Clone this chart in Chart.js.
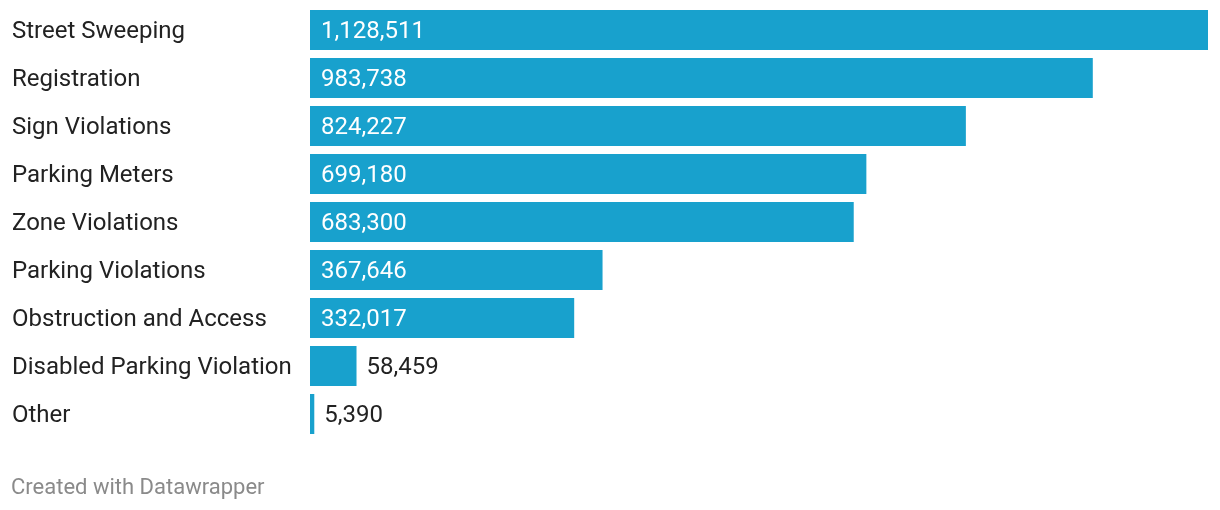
<!DOCTYPE html>
<html>
<head>
<meta charset="utf-8">
<script src="https://cdn.jsdelivr.net/npm/chart.js@4"></script>
<style>
  html, body { margin: 0; padding: 0; background: #fff; }
  #wrap { width: 1220px; height: 510px; position: relative; }
</style>
</head>
<body>
<div id="wrap"><canvas id="chart"></canvas></div>
<script>
const categories = [
  'Street Sweeping', 'Registration', 'Sign Violations', 'Parking Meters',
  'Zone Violations', 'Parking Violations', 'Obstruction and Access',
  'Disabled Parking Violation', 'Other'
];
const citations = [1128511, 983738, 824227, 699180, 683300, 367646, 332017, 58459, 5390];
const footerText = 'Created with Datawrapper';

const BAR_COLOR = '#18a1cd';
const FONT = 'Roboto, "Noto Sans", sans-serif';

// category names on the left + value labels (white inside bar if they fit)
const barLabels = {
  id: 'barLabels',
  afterDatasetsDraw(chart) {
    const ctx = chart.ctx;
    const meta = chart.getDatasetMeta(0);
    ctx.save();
    ctx.font = `24px ${FONT}`;
    ctx.textBaseline = 'middle';
    ctx.textAlign = 'left';
    meta.data.forEach((bar, i) => {
      ctx.fillStyle = '#222222';
      ctx.fillText(categories[i], 12, bar.y + 2);

      const text = citations[i].toLocaleString('en-US');
      const w = ctx.measureText(text).width;
      const barW = bar.x - bar.base;
      if (barW > w + 22) {
        ctx.fillStyle = '#ffffff';
        ctx.fillText(text, bar.base + 11, bar.y + 2);
      } else {
        ctx.fillStyle = '#222222';
        ctx.fillText(text, bar.x + 10, bar.y + 2);
      }
    });
    ctx.restore();
  }
};

const footer = {
  id: 'footer',
  afterDraw(chart) {
    const ctx = chart.ctx;
    ctx.save();
    ctx.font = `22px ${FONT}`;
    ctx.fillStyle = '#8a8a8a';
    ctx.textBaseline = 'middle';
    ctx.fillText(footerText, 11, 488);
    ctx.restore();
  }
};

new Chart(document.getElementById('chart'), {
  type: 'bar',
  data: {
    labels: categories,
    datasets: [{
      data: citations,
      backgroundColor: BAR_COLOR,
      categoryPercentage: 1,
      barPercentage: 40 / 48,
      borderWidth: 0,
    }]
  },
  options: {
    indexAxis: 'y',
    responsive: true,
    maintainAspectRatio: false,
    animation: false,
    layout: { padding: { left: 310, right: 12, top: 6, bottom: 72 } },
    scales: {
      x: { display: false, min: 0, max: 1128511 },
      y: { display: false }
    },
    plugins: {
      legend: { display: false },
      tooltip: { enabled: false },
    }
  },
  plugins: [barLabels, footer]
});
</script>
</body>
</html>
